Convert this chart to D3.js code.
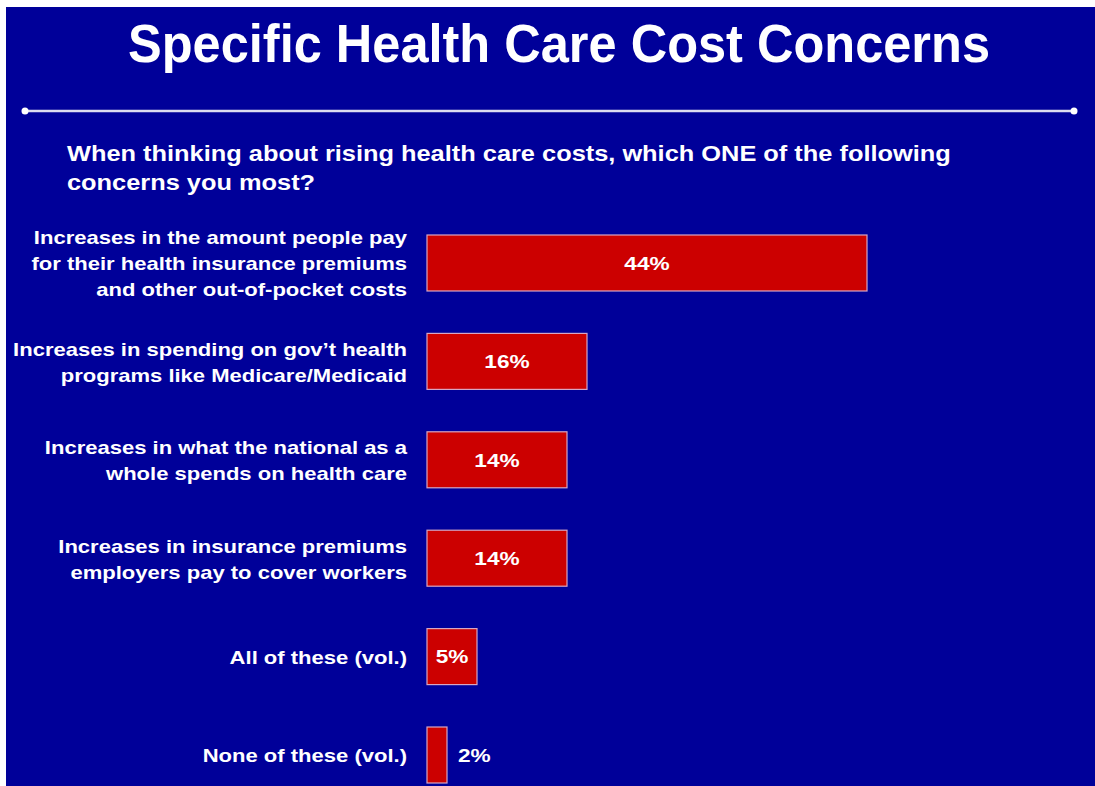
<!DOCTYPE html>
<html>
<head>
<meta charset="utf-8">
<script src="https://cdn.jsdelivr.net/npm/d3@7"></script>
<style>
  html, body { margin: 0; padding: 0; background: #ffffff; }
  svg { display: block; }
  text { font-family: "Liberation Sans", Arial, Helvetica, sans-serif; font-weight: bold; fill: #ffffff; }
</style>
</head>
<body>
<svg id="chart" width="1095" height="786"></svg>
<script>
// Survey answers, top to bottom; each label is split into its display lines
const categories = [
  ["Increases in the amount people pay", "for their health insurance premiums", "and other out-of-pocket costs"],
  ["Increases in spending on gov\u2019t health", "programs like Medicare/Medicaid"],
  ["Increases in what the national as a", "whole spends on health care"],
  ["Increases in insurance premiums", "employers pay to cover workers"],
  ["All of these (vol.)"],
  ["None of these (vol.)"]
];
const values = [44, 16, 14, 14, 5, 2];
const valueLabels = ["44%", "16%", "14%", "14%", "5%", "2%"];

const title = "Specific Health Care Cost Concerns";
const question = [
  "When thinking about rising health care costs, which ONE of the following",
  "concerns you most?"
];

const svg = d3.select("#chart");
const W = 1095, H = 786;

// Body text is set in a slightly extended face: widen each line by this factor
const EXTEND = 1.19;
function extend(sel, k) {
  sel.each(function () {
    const len = this.getComputedTextLength();
    d3.select(this)
      .attr("textLength", len * k)
      .attr("lengthAdjust", "spacingAndGlyphs");
  });
}

// Blue panel
svg.append("rect")
  .attr("x", 6).attr("y", 7)
  .attr("width", W - 6).attr("height", H - 7)
  .attr("fill", "#000099");

// Title
svg.append("text")
  .attr("x", 128).attr("y", 62)
  .attr("font-size", 54)
  .attr("textLength", 862)
  .attr("lengthAdjust", "spacingAndGlyphs")
  .text(title);

// Divider rule with rounded end caps
const rule = svg.append("g");
rule.append("line")
  .attr("x1", 25).attr("x2", 1074)
  .attr("y1", 111).attr("y2", 111)
  .attr("stroke", "#dcdcf0").attr("stroke-width", 2.5);
[25, 1074].forEach(cx => {
  rule.append("circle")
    .attr("cx", cx).attr("cy", 111).attr("r", 3.5)
    .attr("fill", "#ffffff");
});

// Question text
svg.append("g").selectAll("text")
  .data(question)
  .join("text")
  .attr("x", 67)
  .attr("y", (d, i) => 161 + i * 29)
  .attr("font-size", 21.5)
  .text(d => d)
  .call(extend, 1.18);

// Scales
const ids = categories.map((d, i) => i);
const x = d3.scaleLinear().domain([0, 50]).range([427, 927]);
const y = d3.scaleBand().domain(ids).range([235, 783]).paddingInner(0.431).paddingOuter(0);

// Bars
svg.append("g").selectAll("rect")
  .data(values)
  .join("rect")
  .attr("x", x(0))
  .attr("y", (d, i) => y(i))
  .attr("width", d => x(d) - x(0))
  .attr("height", y.bandwidth())
  .attr("fill", "#cc0000")
  .attr("stroke", "#d7a6c4")
  .attr("stroke-width", 1.2);

// Value labels: centred inside the bar, or just past its end when it is too narrow
const fits = d => x(d) - x(0) >= 40;
svg.append("g").selectAll("text")
  .data(values)
  .join("text")
  .attr("x", d => fits(d) ? (x(0) + x(d)) / 2 : x(d) + 11)
  .attr("y", (d, i) => y(i) + y.bandwidth() / 2)
  .attr("dy", "0.36em")
  .attr("text-anchor", d => fits(d) ? "middle" : "start")
  .attr("font-size", 19)
  .text((d, i) => valueLabels[i])
  .call(extend, EXTEND);

// Category labels, right aligned against the bars
const lineH = 26;
const labelRows = categories.flatMap((lines, i) =>
  lines.map((ln, j) => ({ ln, i, off: j - (lines.length - 1) / 2 })));
svg.append("g").selectAll("text")
  .data(labelRows)
  .join("text")
  .attr("text-anchor", "end")
  .attr("font-size", 18.5)
  .attr("x", 407)
  .attr("y", d => y(d.i) + y.bandwidth() / 2 + d.off * lineH)
  .attr("dy", "0.4em")
  .attr("textLength", null)
  .text(d => d.ln)
  .call(extend, EXTEND);
</script>
</body>
</html>
